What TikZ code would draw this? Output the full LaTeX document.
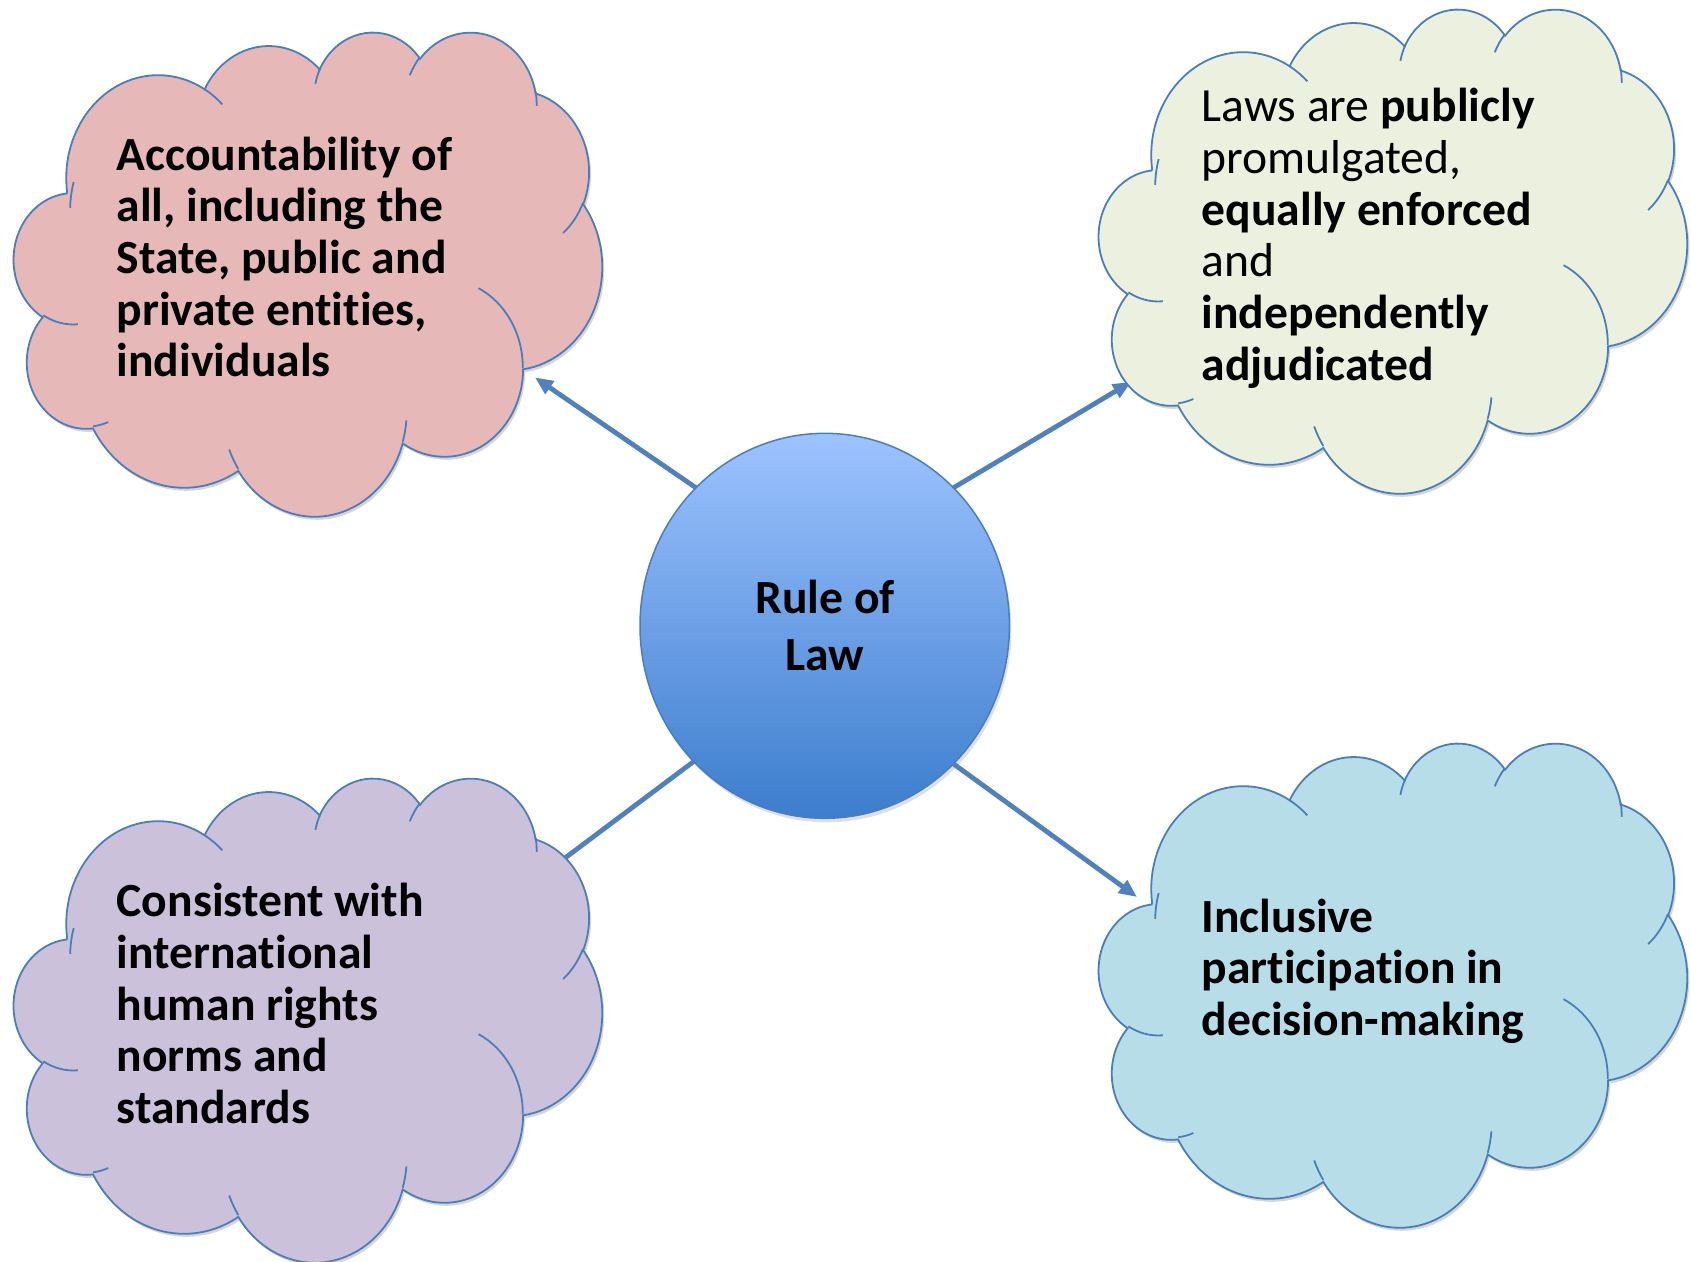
\documentclass[tikz,border=0pt]{standalone}
\usepackage{fontspec}
\setmainfont{Carlito}[Ligatures=NoCommon, RawFeature={-calt;-dlig;-clig}]
\usetikzlibrary{arrows.meta,shapes.geometric,shadows}

\definecolor{cloudline}{RGB}{74,126,187}
\definecolor{arrowblue}{RGB}{79,129,189}
\definecolor{fillTL}{RGB}{230,185,184}
\definecolor{fillTR}{RGB}{235,241,222}
\definecolor{fillBL}{RGB}{204,193,218}
\definecolor{fillBR}{RGB}{183,222,232}
\definecolor{circtop}{RGB}{157,195,255}
\definecolor{circbot}{RGB}{60,125,205}

\newcommand\cloudoutline{(3.9,14.37)
 arc[start angle=-187.745,end angle=-59.63,x radius=6.753,y radius=9.19]
 arc[start angle=-152.04,end angle=-45.44,x radius=5.333,y radius=7.267]
 arc[start angle=-153.49,end angle=-37.34,x radius=4.365,y radius=5.945]
 arc[start angle=-139.71,end angle=-10.21,x radius=4.857,y radius=6.595]
 arc[start angle=-74.77,end angle=23.21,x radius=5.333,y radius=7.273]
 arc[start angle=-37.52,end angle=81.86,x radius=6.775,y radius=9.22]
 arc[start angle=0.46,end angle=121.98,x radius=5.785,y radius=7.867]
 arc[start angle=16.84,end angle=146.23,x radius=6.752,y radius=9.215]
 arc[start angle=58.98,end angle=150.19,x radius=7.72,y radius=10.543]
 arc[start angle=83.31,end angle=223.11,x radius=4.36,y radius=5.918]
 arc[start angle=120.36,end angle=264.11,x radius=4.345,y radius=5.945]
 -- cycle}

\newcommand\clouddetails{
 (4.693,26.177) arc[start angle=85.55,end angle=120.36,x radius=4.345,y radius=5.945]
 (6.928,34.899) arc[start angle=68.24,end angle=83.31,x radius=4.36,y radius=5.918]
 (16.478,39.09) arc[start angle=146.23,end angle=158.47,x radius=6.752,y radius=9.215]
 (28.827,34.751) arc[start angle=4.74,end angle=16.84,x radius=6.752,y radius=9.215]
 (34.129,22.954) arc[start angle=-64.03,end angle=0.46,x radius=5.785,y radius=7.867]
 (41.798,15.354) arc[start angle=23.21,end angle=49.64,x radius=5.333,y radius=7.273]
 (38.324,5.426) arc[start angle=-10.21,end angle=0.82,x radius=4.857,y radius=6.595]
 (29.078,3.952) arc[start angle=-156.29,end angle=-139.71,x radius=4.857,y radius=6.595]
 (22.141,4.72) arc[start angle=-167.73,end angle=-153.49,x radius=4.365,y radius=5.945]
 (14,5.192) arc[start angle=-59.63,end angle=-45.72,x radius=6.753,y radius=9.19]
 (4.127,15.789) arc[start angle=-178.71,end angle=-164.10,x radius=6.753,y radius=9.19]
}

\newcommand\mycloud[3]{%
 \begin{scope}[shift={(#1,#2)}, x=13.6111pt, y=-11.2037pt]
  \fill[black, opacity=0.16, xshift=2pt, yshift=-3pt] \cloudoutline;
  \filldraw[fill=#3, draw=cloudline, line width=1.8pt] \cloudoutline;
  \draw[cloudline, line width=1.8pt] \clouddetails;
 \end{scope}}

\tikzset{
 arr/.style={draw=arrowblue, line width=4.8pt, -{Triangle[length=18pt,width=15pt]}},
 txt/.style={font=\fontsize{47.6}{51.7}\selectfont, align=left, inner sep=0pt, anchor=base west},
 boldtxt/.style={txt, font=\fontsize{47.6}{51.7}\selectfont\bfseries},
 hub/.style={ellipse, minimum width=369.4pt, minimum height=385pt, inner sep=0pt, outer sep=0pt,
   draw=cloudline, line width=1.5pt, top color=circtop, bottom color=circbot,
   drop shadow={shadow xshift=2pt, shadow yshift=-4pt, opacity=0.25}},
}

\begin{document}
\begin{tikzpicture}[x=1pt, y=-1pt]
\useasboundingbox (0,0) rectangle (1691,1261);
\fill[white] (0,0) rectangle (1691,1261);

\node[hub] (rol) at (824.7,625.8) {};

\coordinate (tipTL) at (535,377.5);
\coordinate (tipTR) at (1131,382);
\coordinate (tipBL) at (533,882);
\coordinate (tipBR) at (1137,897);

\draw[arr] (rol.133.7) -- (tipTL);
\draw[arr] (rol.47) -- (tipTR);
\draw[arr] (rol.226) -- (tipBL);
\draw[arr] (rol.313.5) -- (tipBR);

\mycloud{14}{31}{fillTL}
\mycloud{1099}{8}{fillTR}
\mycloud{14}{777}{fillBL}
\mycloud{1099}{742}{fillBR}

\node[font=\fontsize{47.6}{56.7}\selectfont\bfseries, align=center, inner sep=0pt, anchor=base] (rolt) at (825,670) {Rule of\\Law};

\node[boldtxt] (tTL) at (116.5,376.8) {Accountability of\\all, including the\\State, public and\\private entities,\\individuals};
\node[txt] (tTR) at (1201.5,380.2) {Laws are \textbf{publicly}\\promulgated,\\\textbf{equally enforced}\\and\\\textbf{independently}\\\textbf{adjudicated}};
\node[boldtxt] (tBL) at (116.5,1123.5) {Consistent with\\international\\human rights\\norms and\\standards};
\node[boldtxt] (tBR) at (1201.5,1035.5) {Inclusive\\participation in\\decision-making};
\end{tikzpicture}
\end{document}
